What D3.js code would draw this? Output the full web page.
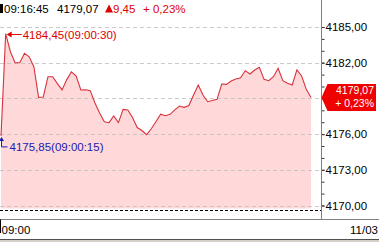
<!DOCTYPE html>
<html>
<head>
<meta charset="utf-8">
<script src="https://cdn.jsdelivr.net/npm/d3@7"></script>
<style>
  html, body { margin: 0; padding: 0; background: #fff; }
  svg { display: block; font-family: "Liberation Sans", Arial, sans-serif; }
</style>
</head>
<body>
<svg id="viz"></svg>
<script>
const times = [
    "09:00:15", "09:00:30", "09:00:45", "09:01:00", "09:01:15", "09:01:30", "09:01:45", "09:02:00",
    "09:02:15", "09:02:30", "09:02:45", "09:03:00", "09:03:15", "09:03:30", "09:03:45", "09:04:00",
    "09:04:15", "09:04:30", "09:04:45", "09:05:00", "09:05:15", "09:05:30", "09:05:45", "09:06:00",
    "09:06:15", "09:06:30", "09:06:45", "09:07:00", "09:07:15", "09:07:30", "09:07:45", "09:08:00",
    "09:08:15", "09:08:30", "09:08:45", "09:09:00", "09:09:15", "09:09:30", "09:09:45", "09:10:00",
    "09:10:15", "09:10:30", "09:10:45", "09:11:00", "09:11:15", "09:11:30", "09:11:45", "09:12:00",
    "09:12:15", "09:12:30", "09:12:45", "09:13:00", "09:13:15", "09:13:30", "09:13:45", "09:14:00",
    "09:14:15", "09:14:30", "09:14:45", "09:15:00", "09:15:15", "09:15:30", "09:15:45", "09:16:00",
    "09:16:15", "09:16:30", "09:16:45"
];
const prices = [
    4175.85, 4184.45, 4182.92, 4182.00, 4182.00, 4182.79, 4182.50, 4181.66,
    4179.09, 4179.12, 4180.82, 4180.82, 4180.24, 4179.71, 4180.58, 4181.24,
    4180.88, 4179.71, 4179.73, 4179.65, 4178.61, 4177.77, 4177.04, 4176.96,
    4177.52, 4176.96, 4178.08, 4178.03, 4177.39, 4176.55, 4176.30, 4175.95,
    4176.45, 4177.06, 4177.67, 4177.55, 4177.66, 4178.03, 4178.36, 4178.25,
    4178.40, 4179.29, 4180.13, 4179.29, 4178.72, 4178.82, 4178.92, 4180.21,
    4180.18, 4180.46, 4180.63, 4180.74, 4181.33, 4181.05, 4181.39, 4181.61,
    4180.60, 4180.49, 4180.82, 4181.53, 4180.49, 4180.27, 4180.13, 4181.39,
    4180.88, 4179.76, 4179.07
];
const prevClose = 4169.62;
const yTicks = [4170, 4173, 4176, 4179, 4182, 4185];
const yMinorTicks = d3.range(4170, 4186, 1);
const xTickLabels = ["09:00"];
const dateLabel = "11/03";

const app = {
    init() {
        const parse = d3.timeParse("%H:%M:%S");
        const data = times.map((t, i) => ({ label: t, time: parse(t), price: prices[i] }));
        this.createGraph(data);
    },

    createGraph(data) {
        const width = 379;
        const height = 242;
        const axisX = 321.5;
        const bottomY = 219.5;

        const num = d3.format(".2f");
        const fmt = v => num(v).replace(".", ",");

        this.svg = d3.select("#viz").attr("width", width).attr("height", height);

        const x = d3.scaleTime().domain(d3.extent(data, d => d.time)).range([1, 311]);
        const y = d3.scaleLinear().domain([4170, 4185]).range([205.5, 27]);

        const last = data[data.length - 1];
        const ly = y(last.price);

        const plot = this.svg.append("g");
        plot.append("clipPath").attr("id", "clip").append("rect").attr("x", 0).attr("y", 0).attr("width", axisX).attr("height", bottomY);

        // area + line
        const area = d3.area().x(d => x(d.time)).y0(y(prevClose) - 1.5).y1(d => y(d.price));
        const line = d3.line().x(d => x(d.time)).y(d => y(d.price));
        plot.append("path").datum(data).attr("d", area).attr("fill", "#ffd9d9").attr("clip-path", "url(#clip)");

        // gridlines
        plot.selectAll(".grid").data(yTicks).enter().append("line")
            .attr("x1", 0).attr("x2", axisX).attr("y1", d => Math.round(y(d)) + 0.5).attr("y2", d => Math.round(y(d)) + 0.5)
            .attr("stroke", "#bdbdbd").attr("stroke-opacity", 0.8).attr("stroke-dasharray", "4,3");

        plot.append("path").datum(data).attr("d", line).attr("fill", "none").attr("stroke", "#d8323c").attr("stroke-width", 1.1).attr("clip-path", "url(#clip)");

        // previous close
        plot.append("line").attr("x1", 0).attr("x2", axisX).attr("y1", Math.round(y(prevClose)) + 0.5).attr("y2", Math.round(y(prevClose)) + 0.5)
            .attr("stroke", "#000").attr("stroke-dasharray", "3,2");

        // right axis (labels hidden under the last-value tag are dropped)
        const minor = this.svg.append("g").attr("transform", `translate(${axisX}, 0)`)
            .call(d3.axisRight(y).tickValues(yMinorTicks).tickSize(3).tickFormat(""));
        minor.select(".domain").remove();
        const major = this.svg.append("g").attr("transform", `translate(${axisX}, 0)`)
            .call(d3.axisRight(y).tickValues(yTicks).tickSize(3).tickPadding(1).tickFormat(fmt));
        major.select(".domain").remove();
        major.selectAll("text").attr("font-size", "11.5px").attr("fill", "#000").attr("font-family", "Liberation Sans, Arial, sans-serif");
        major.selectAll(".tick").filter(d => Math.abs(y(d) - ly) < 20).select("text").remove();
        this.svg.selectAll(".tick line").attr("stroke", "#333");

        this.svg.append("line").attr("x1", axisX).attr("x2", axisX).attr("y1", 0).attr("y2", bottomY).attr("stroke", "#808080");
        this.svg.append("line").attr("x1", 0).attr("x2", width).attr("y1", bottomY).attr("y2", bottomY).attr("stroke", "#808080");

        // bottom axis labels
        this.svg.append("line").attr("x1", 0.5).attr("x2", 0.5).attr("y1", bottomY).attr("y2", 233).attr("stroke", "#000");
        this.svg.append("text").attr("x", 1.5).attr("y", 234).attr("font-size", "11.5px").text(xTickLabels[0]);
        this.svg.append("text").attr("x", width - 1).attr("y", 234).attr("text-anchor", "end").attr("font-size", "11.5px").text(dateLabel);
        this.svg.append("rect").attr("x", 0).attr("y", 239).attr("width", width).attr("height", 1).attr("fill", "#505050");
        this.svg.append("rect").attr("x", 0).attr("y", 240).attr("width", width).attr("height", 2).attr("fill", "#d4d0c8");

        // header
        const change = last.price - prevClose;
        const pct = change / prevClose * 100;
        const red = "#e00000";
        this.svg.append("rect").attr("x", 0).attr("y", 4).attr("width", 3).attr("height", 9).attr("fill", "#000");
        this.svg.append("text").attr("x", 4).attr("y", 13).attr("font-size", "11.5px").text(last.label);
        this.svg.append("text").attr("x", 57).attr("y", 13).attr("font-size", "11.5px").text(fmt(last.price));
        this.svg.append("path").attr("d", "M105,12.5L109,4.5L113,12.5Z").attr("fill", red);
        this.svg.append("text").attr("x", 113).attr("y", 13).attr("font-size", "11.5px").attr("fill", red).text(fmt(change));
        this.svg.append("text").attr("x", 143).attr("y", 13).attr("font-size", "11.5px").attr("fill", red).text("+ " + fmt(pct) + "%");

        // max annotation
        const maxD = data.reduce((a, b) => b.price > a.price ? b : a);
        const mx = x(maxD.time), my = Math.round(y(maxD.price)) + 0.5;
        const ann = this.svg.append("g");
        ann.append("line").attr("x1", mx + 3).attr("x2", mx + 16).attr("y1", my).attr("y2", my).attr("stroke", red);
        ann.append("path").attr("d", `M${mx + 1},${my}L${mx + 6},${my - 3}L${mx + 6},${my + 3}Z`).attr("fill", red);
        ann.append("text").attr("x", mx + 17).attr("y", my + 4.5).attr("font-size", "11.5px").attr("fill", red).text(`${fmt(maxD.price)}(${maxD.label})`);

        // min annotation
        const blue = "#1a1ab4";
        const minD = data.reduce((a, b) => b.price < a.price ? b : a);
        const nx = Math.round(x(minD.time)) + 0.5, ny = y(minD.price);
        ann.append("path").attr("d", `M${nx},${ny + 3}L${nx},${ny + 11}L${nx + 6},${ny + 11}`).attr("fill", "none").attr("stroke", blue);
        ann.append("path").attr("d", `M${nx},${ny + 1}L${nx - 2.5},${ny + 5}L${nx + 2.5},${ny + 5}Z`).attr("fill", blue);
        ann.append("text").attr("x", nx + 8).attr("y", ny + 15.5).attr("font-size", "11.5px").attr("fill", blue).text(`${fmt(minD.price)}(${minD.label})`);

        // last value tag
        const tag = this.svg.append("g");
        tag.append("path").attr("d", `M${axisX},${ly}L${axisX + 6},${ly - 13.5}L376,${ly - 13.5}L376,${ly + 13.5}L${axisX + 6},${ly + 13.5}Z`).attr("fill", "#f00000");
        tag.append("text").attr("x", 374).attr("y", ly - 3.5).attr("text-anchor", "end").attr("font-size", "10.5px").attr("fill", "#fff").text(fmt(last.price));
        tag.append("text").attr("x", 374).attr("y", ly + 9).attr("text-anchor", "end").attr("font-size", "10.5px").attr("fill", "#fff").text("+ " + fmt(pct) + "%");
    }
}

window.addEventListener("DOMContentLoaded", () => app.init())
</script>
</body>
</html>
